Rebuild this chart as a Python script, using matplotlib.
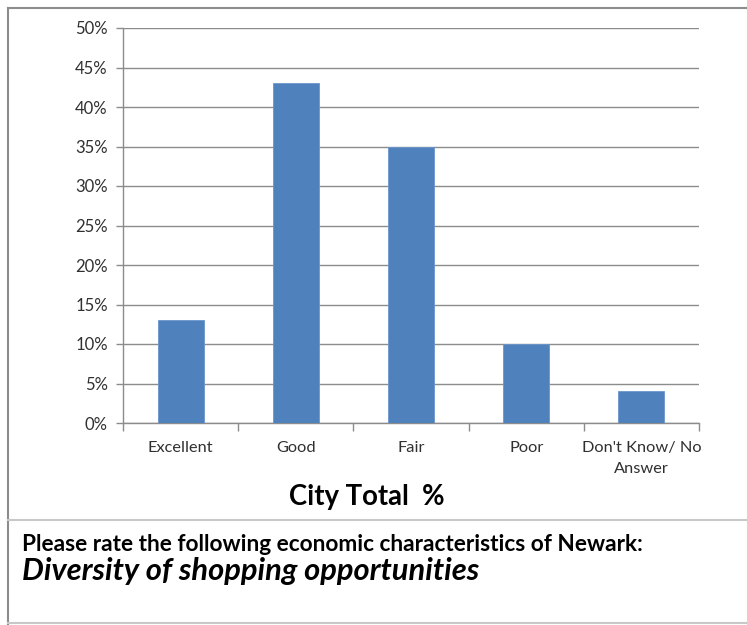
import matplotlib

matplotlib.use("Agg")
import matplotlib.pyplot as plt
from matplotlib.lines import Line2D
from matplotlib.ticker import PercentFormatter
import numpy as np

plt.rcParams["font.family"] = ["Lato", "DejaVu Sans"]

categories = ["Excellent", "Good", "Fair", "Poor", "Don't Know/ No\nAnswer"]
city_total = [13, 43, 35, 10, 4]
y_ticks = [0, 5, 10, 15, 20, 25, 30, 35, 40, 45, 50]

question = "Please rate the following economic characteristics of Newark:"
topic = "Diversity of shopping opportunities"
axis_title = "City Total  %"

W, H = 747, 625
BAR = "#4F81BD"
GRID = "#8C8C8C"
TEXT = "#303030"


def px(x, y):
    """Pixel position (from top-left) to figure fraction."""
    return x / W, 1 - y / H


fig = plt.figure(figsize=(W / 100, H / 100), dpi=100)

# frame around chart and question panel
for xs, ys, col in (
    ([8, 8], [8, 625], "#8C8C8C"),
    ([8, 747], [8, 8], "#8C8C8C"),
    ([8, 747], [520, 520], "#C8C8C8"),
    ([8, 747], [623, 623], "#C8C8C8"),
):
    fig.add_artist(Line2D([x / W for x in xs], [1 - y / H for y in ys],
                          color=col, lw=1.5, transform=fig.transFigure))

left, top, right, bottom = 123, 28, 699, 423
ax = fig.add_axes([left / W, 1 - bottom / H, (right - left) / W, (bottom - top) / H])

x = np.arange(len(categories))
ax.bar(x, city_total, width=0.4, color=BAR, edgecolor="#6C96CC", linewidth=0.6, zorder=3)

ax.set_xlim(-0.5, len(categories) - 0.5)
ax.set_ylim(0, 50)
ax.set_yticks(y_ticks)
ax.yaxis.set_major_formatter(PercentFormatter(decimals=0))
ax.grid(axis="y", color=GRID, lw=1, zorder=0)

ax.set_xticks(x)
ax.set_xticklabels(categories, fontsize=11.8, color=TEXT, linespacing=1.6)
ax.tick_params(axis="x", length=0, pad=13)
ax.set_xticks(np.arange(len(categories) + 1) - 0.5, minor=True)
ax.tick_params(axis="x", which="minor", length=6, color=GRID, width=1)
ax.tick_params(axis="y", length=5, color=GRID, width=1, labelsize=12, labelcolor=TEXT, pad=6)

for side in ("top", "right"):
    ax.spines[side].set_visible(False)
for side in ("left", "bottom"):
    ax.spines[side].set_color(GRID)
    ax.spines[side].set_linewidth(1)

fig.text(*px(367, 505), axis_title, fontsize=19.8, fontweight="bold",
         ha="center", va="baseline", color="black")
fig.text(*px(22, 551), question, fontsize=16.3, fontweight="bold",
         ha="left", va="baseline", color="black")
fig.text(*px(22, 580), topic, fontsize=22.2, fontweight="bold", fontstyle="italic",
         ha="left", va="baseline", color="black")

fig.savefig("out.png", dpi=100)
